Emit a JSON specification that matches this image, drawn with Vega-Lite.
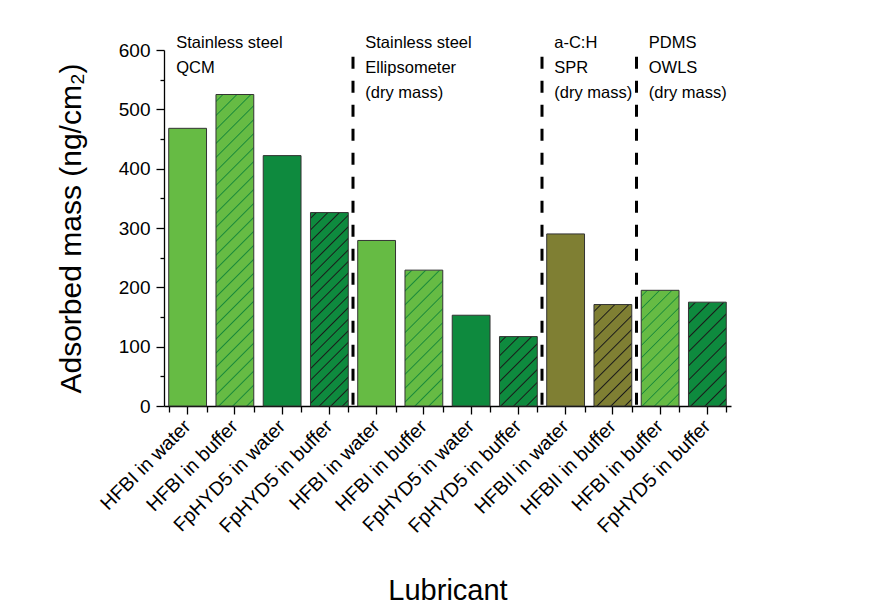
{
  "$schema": "https://vega.github.io/schema/vega-lite/v6.json",
  "width": 567,
  "height": 356,
  "autosize": {"type": "none"},
  "padding": {"left": 164, "top": 50, "right": 139, "bottom": 210},
  "background": "white",
  "config": {
    "view": {"stroke": null},
    "font": "Liberation Sans",
    "axis": {"grid": false, "domainColor": "#000", "tickColor": "#000", "labelColor": "#000", "titleColor": "#000", "labelFont": "Liberation Sans", "titleFont": "Liberation Sans", "titleFontWeight": "normal"}
  },
  "datasets": {
    "bars": [
      {"bar": "QCM|HFBI in water", "protein": "HFBI", "mass": 468},
      {"bar": "QCM|HFBI in buffer", "protein": "HFBI", "mass": 525},
      {"bar": "QCM|FpHYD5 in water", "protein": "FpHYD5", "mass": 422},
      {"bar": "QCM|FpHYD5 in buffer", "protein": "FpHYD5", "mass": 326},
      {"bar": "Ellipsometer|HFBI in water", "protein": "HFBI", "mass": 279},
      {"bar": "Ellipsometer|HFBI in buffer", "protein": "HFBI", "mass": 229},
      {"bar": "Ellipsometer|FpHYD5 in water", "protein": "FpHYD5", "mass": 153},
      {"bar": "Ellipsometer|FpHYD5 in buffer", "protein": "FpHYD5", "mass": 117},
      {"bar": "SPR|HFBII in water", "protein": "HFBII", "mass": 290},
      {"bar": "SPR|HFBII in buffer", "protein": "HFBII", "mass": 171},
      {"bar": "OWLS|HFBI in buffer", "protein": "HFBI", "mass": 195},
      {"bar": "OWLS|FpHYD5 in buffer", "protein": "FpHYD5", "mass": 175}
    ],
    "seps": [
      {"at": "Ellipsometer|HFBI in water"},
      {"at": "SPR|HFBII in water"},
      {"at": "OWLS|HFBI in buffer"}
    ],
    "notes": [
      {"at": "QCM|HFBI in water", "note": "Stainless steel\nQCM"},
      {"at": "Ellipsometer|HFBI in water", "note": "Stainless steel\nEllipsometer\n(dry mass)"},
      {"at": "SPR|HFBII in water", "note": "a-C:H\nSPR\n(dry mass)"},
      {"at": "OWLS|HFBI in buffer", "note": "PDMS\nOWLS\n(dry mass)"}
    ]
  },
  "layer": [
    {
      "data": {"name": "bars"},
      "mark": {"type": "bar", "stroke": "#333", "strokeWidth": 1},
      "encoding": {
        "x": {
          "field": "bar", "type": "nominal",
          "scale": {"domain": ["QCM|HFBI in water", "QCM|HFBI in buffer", "QCM|FpHYD5 in water", "QCM|FpHYD5 in buffer", "Ellipsometer|HFBI in water", "Ellipsometer|HFBI in buffer", "Ellipsometer|FpHYD5 in water", "Ellipsometer|FpHYD5 in buffer", "SPR|HFBII in water", "SPR|HFBII in buffer", "OWLS|HFBI in buffer", "OWLS|FpHYD5 in buffer"], "paddingInner": 0.2, "paddingOuter": 0.1},
          "axis": {"orient": "bottom", "title": "Lubricant", "labelExpr": "split(datum.label, '|')[1]", "labelAngle": -45, "labelAlign": "right", "labelBaseline": "middle", "labelFontSize": 19.5, "labelOverlap": false, "labelLimit": 300, "tickSize": 8, "labelPadding": 9, "titleFontSize": 29, "titlePadding": 41, "domainWidth": 1.3, "tickWidth": 1.3}
        },
        "y": {
          "field": "mass", "type": "quantitative",
          "scale": {"domain": [0, 600], "nice": false},
          "axis": {"orient": "left", "title": "Adsorbed mass (ng/cm₂)", "values": [0, 100, 200, 300, 400, 500, 600], "tickSize": 8, "labelFontSize": 19, "labelPadding": 6, "titleFontSize": 30, "titlePadding": 32, "domainWidth": 1.3, "tickWidth": 1.3}
        },
        "fill": {
          "field": "protein", "type": "nominal",
          "scale": {"domain": ["HFBI", "FpHYD5", "HFBII"], "range": ["#66bb44", "#0e8a3e", "#7f7f33"]},
          "legend": null,
          "condition": [
            {"test": "datum.bar === 'QCM|HFBI in buffer'", "value": {"gradient": "linear", "x1": 0, "y1": 0, "x2": 0.1341, "y2": 1.1051, "stops": [
              {"offset": 0.016, "color": "#66bb44"}, {"offset": 0.02, "color": "#1a8a3a"}, {"offset": 0.024, "color": "#66bb44"},
              {"offset": 0.056, "color": "#66bb44"}, {"offset": 0.06, "color": "#1a8a3a"}, {"offset": 0.064, "color": "#66bb44"},
              {"offset": 0.096, "color": "#66bb44"}, {"offset": 0.1, "color": "#1a8a3a"}, {"offset": 0.104, "color": "#66bb44"},
              {"offset": 0.136, "color": "#66bb44"}, {"offset": 0.14, "color": "#1a8a3a"}, {"offset": 0.144, "color": "#66bb44"},
              {"offset": 0.176, "color": "#66bb44"}, {"offset": 0.18, "color": "#1a8a3a"}, {"offset": 0.184, "color": "#66bb44"},
              {"offset": 0.216, "color": "#66bb44"}, {"offset": 0.22, "color": "#1a8a3a"}, {"offset": 0.224, "color": "#66bb44"},
              {"offset": 0.256, "color": "#66bb44"}, {"offset": 0.26, "color": "#1a8a3a"}, {"offset": 0.264, "color": "#66bb44"},
              {"offset": 0.296, "color": "#66bb44"}, {"offset": 0.3, "color": "#1a8a3a"}, {"offset": 0.304, "color": "#66bb44"},
              {"offset": 0.336, "color": "#66bb44"}, {"offset": 0.34, "color": "#1a8a3a"}, {"offset": 0.344, "color": "#66bb44"},
              {"offset": 0.376, "color": "#66bb44"}, {"offset": 0.38, "color": "#1a8a3a"}, {"offset": 0.384, "color": "#66bb44"},
              {"offset": 0.416, "color": "#66bb44"}, {"offset": 0.42, "color": "#1a8a3a"}, {"offset": 0.424, "color": "#66bb44"},
              {"offset": 0.456, "color": "#66bb44"}, {"offset": 0.46, "color": "#1a8a3a"}, {"offset": 0.464, "color": "#66bb44"},
              {"offset": 0.496, "color": "#66bb44"}, {"offset": 0.5, "color": "#1a8a3a"}, {"offset": 0.504, "color": "#66bb44"},
              {"offset": 0.536, "color": "#66bb44"}, {"offset": 0.54, "color": "#1a8a3a"}, {"offset": 0.544, "color": "#66bb44"},
              {"offset": 0.576, "color": "#66bb44"}, {"offset": 0.58, "color": "#1a8a3a"}, {"offset": 0.584, "color": "#66bb44"},
              {"offset": 0.616, "color": "#66bb44"}, {"offset": 0.62, "color": "#1a8a3a"}, {"offset": 0.624, "color": "#66bb44"},
              {"offset": 0.656, "color": "#66bb44"}, {"offset": 0.66, "color": "#1a8a3a"}, {"offset": 0.664, "color": "#66bb44"},
              {"offset": 0.696, "color": "#66bb44"}, {"offset": 0.7, "color": "#1a8a3a"}, {"offset": 0.704, "color": "#66bb44"},
              {"offset": 0.736, "color": "#66bb44"}, {"offset": 0.74, "color": "#1a8a3a"}, {"offset": 0.744, "color": "#66bb44"},
              {"offset": 0.776, "color": "#66bb44"}, {"offset": 0.78, "color": "#1a8a3a"}, {"offset": 0.784, "color": "#66bb44"},
              {"offset": 0.816, "color": "#66bb44"}, {"offset": 0.82, "color": "#1a8a3a"}, {"offset": 0.824, "color": "#66bb44"},
              {"offset": 0.856, "color": "#66bb44"}, {"offset": 0.86, "color": "#1a8a3a"}, {"offset": 0.864, "color": "#66bb44"},
              {"offset": 0.896, "color": "#66bb44"}, {"offset": 0.9, "color": "#1a8a3a"}, {"offset": 0.904, "color": "#66bb44"},
              {"offset": 0.936, "color": "#66bb44"}, {"offset": 0.94, "color": "#1a8a3a"}, {"offset": 0.944, "color": "#66bb44"},
              {"offset": 0.976, "color": "#66bb44"}, {"offset": 0.98, "color": "#1a8a3a"}, {"offset": 0.984, "color": "#66bb44"}
            ]}},
            {"test": "datum.bar === 'QCM|FpHYD5 in buffer'", "value": {"gradient": "linear", "x1": 0, "y1": 0, "x2": 0.2251, "y2": 1.1514, "stops": [
              {"offset": 0.019, "color": "#0e8a3e"}, {"offset": 0.025, "color": "#1a1a1a"}, {"offset": 0.031, "color": "#0e8a3e"},
              {"offset": 0.069, "color": "#0e8a3e"}, {"offset": 0.075, "color": "#1a1a1a"}, {"offset": 0.081, "color": "#0e8a3e"},
              {"offset": 0.119, "color": "#0e8a3e"}, {"offset": 0.125, "color": "#1a1a1a"}, {"offset": 0.131, "color": "#0e8a3e"},
              {"offset": 0.169, "color": "#0e8a3e"}, {"offset": 0.175, "color": "#1a1a1a"}, {"offset": 0.181, "color": "#0e8a3e"},
              {"offset": 0.219, "color": "#0e8a3e"}, {"offset": 0.225, "color": "#1a1a1a"}, {"offset": 0.231, "color": "#0e8a3e"},
              {"offset": 0.269, "color": "#0e8a3e"}, {"offset": 0.275, "color": "#1a1a1a"}, {"offset": 0.281, "color": "#0e8a3e"},
              {"offset": 0.319, "color": "#0e8a3e"}, {"offset": 0.325, "color": "#1a1a1a"}, {"offset": 0.331, "color": "#0e8a3e"},
              {"offset": 0.369, "color": "#0e8a3e"}, {"offset": 0.375, "color": "#1a1a1a"}, {"offset": 0.381, "color": "#0e8a3e"},
              {"offset": 0.419, "color": "#0e8a3e"}, {"offset": 0.425, "color": "#1a1a1a"}, {"offset": 0.431, "color": "#0e8a3e"},
              {"offset": 0.469, "color": "#0e8a3e"}, {"offset": 0.475, "color": "#1a1a1a"}, {"offset": 0.481, "color": "#0e8a3e"},
              {"offset": 0.519, "color": "#0e8a3e"}, {"offset": 0.525, "color": "#1a1a1a"}, {"offset": 0.531, "color": "#0e8a3e"},
              {"offset": 0.569, "color": "#0e8a3e"}, {"offset": 0.575, "color": "#1a1a1a"}, {"offset": 0.581, "color": "#0e8a3e"},
              {"offset": 0.619, "color": "#0e8a3e"}, {"offset": 0.625, "color": "#1a1a1a"}, {"offset": 0.631, "color": "#0e8a3e"},
              {"offset": 0.669, "color": "#0e8a3e"}, {"offset": 0.675, "color": "#1a1a1a"}, {"offset": 0.681, "color": "#0e8a3e"},
              {"offset": 0.719, "color": "#0e8a3e"}, {"offset": 0.725, "color": "#1a1a1a"}, {"offset": 0.731, "color": "#0e8a3e"},
              {"offset": 0.769, "color": "#0e8a3e"}, {"offset": 0.775, "color": "#1a1a1a"}, {"offset": 0.781, "color": "#0e8a3e"},
              {"offset": 0.819, "color": "#0e8a3e"}, {"offset": 0.825, "color": "#1a1a1a"}, {"offset": 0.831, "color": "#0e8a3e"},
              {"offset": 0.869, "color": "#0e8a3e"}, {"offset": 0.875, "color": "#1a1a1a"}, {"offset": 0.881, "color": "#0e8a3e"},
              {"offset": 0.919, "color": "#0e8a3e"}, {"offset": 0.925, "color": "#1a1a1a"}, {"offset": 0.931, "color": "#0e8a3e"},
              {"offset": 0.969, "color": "#0e8a3e"}, {"offset": 0.975, "color": "#1a1a1a"}, {"offset": 0.981, "color": "#0e8a3e"}
            ]}},
            {"test": "datum.bar === 'Ellipsometer|HFBI in buffer'", "value": {"gradient": "linear", "x1": 0, "y1": 0, "x2": 0.33, "y2": 1.1863, "stops": [
              {"offset": 0.032, "color": "#66bb44"}, {"offset": 0.04, "color": "#1a8a3a"}, {"offset": 0.048, "color": "#66bb44"},
              {"offset": 0.112, "color": "#66bb44"}, {"offset": 0.12, "color": "#1a8a3a"}, {"offset": 0.128, "color": "#66bb44"},
              {"offset": 0.192, "color": "#66bb44"}, {"offset": 0.2, "color": "#1a8a3a"}, {"offset": 0.208, "color": "#66bb44"},
              {"offset": 0.272, "color": "#66bb44"}, {"offset": 0.28, "color": "#1a8a3a"}, {"offset": 0.288, "color": "#66bb44"},
              {"offset": 0.352, "color": "#66bb44"}, {"offset": 0.36, "color": "#1a8a3a"}, {"offset": 0.368, "color": "#66bb44"},
              {"offset": 0.432, "color": "#66bb44"}, {"offset": 0.44, "color": "#1a8a3a"}, {"offset": 0.448, "color": "#66bb44"},
              {"offset": 0.512, "color": "#66bb44"}, {"offset": 0.52, "color": "#1a8a3a"}, {"offset": 0.528, "color": "#66bb44"},
              {"offset": 0.592, "color": "#66bb44"}, {"offset": 0.6, "color": "#1a8a3a"}, {"offset": 0.608, "color": "#66bb44"},
              {"offset": 0.672, "color": "#66bb44"}, {"offset": 0.68, "color": "#1a8a3a"}, {"offset": 0.688, "color": "#66bb44"},
              {"offset": 0.752, "color": "#66bb44"}, {"offset": 0.76, "color": "#1a8a3a"}, {"offset": 0.768, "color": "#66bb44"},
              {"offset": 0.832, "color": "#66bb44"}, {"offset": 0.84, "color": "#1a8a3a"}, {"offset": 0.848, "color": "#66bb44"},
              {"offset": 0.912, "color": "#66bb44"}, {"offset": 0.92, "color": "#1a8a3a"}, {"offset": 0.928, "color": "#66bb44"}
            ]}},
            {"test": "datum.bar === 'Ellipsometer|FpHYD5 in buffer'", "value": {"gradient": "linear", "x1": 0, "y1": 0, "x2": 0.6487, "y2": 1.1913, "stops": [
              {"offset": 0.047, "color": "#0e8a3e"}, {"offset": 0.06, "color": "#1a1a1a"}, {"offset": 0.073, "color": "#0e8a3e"},
              {"offset": 0.167, "color": "#0e8a3e"}, {"offset": 0.18, "color": "#1a1a1a"}, {"offset": 0.193, "color": "#0e8a3e"},
              {"offset": 0.287, "color": "#0e8a3e"}, {"offset": 0.3, "color": "#1a1a1a"}, {"offset": 0.313, "color": "#0e8a3e"},
              {"offset": 0.407, "color": "#0e8a3e"}, {"offset": 0.42, "color": "#1a1a1a"}, {"offset": 0.433, "color": "#0e8a3e"},
              {"offset": 0.527, "color": "#0e8a3e"}, {"offset": 0.54, "color": "#1a1a1a"}, {"offset": 0.553, "color": "#0e8a3e"},
              {"offset": 0.647, "color": "#0e8a3e"}, {"offset": 0.66, "color": "#1a1a1a"}, {"offset": 0.673, "color": "#0e8a3e"},
              {"offset": 0.767, "color": "#0e8a3e"}, {"offset": 0.78, "color": "#1a1a1a"}, {"offset": 0.793, "color": "#0e8a3e"},
              {"offset": 0.887, "color": "#0e8a3e"}, {"offset": 0.9, "color": "#1a1a1a"}, {"offset": 0.913, "color": "#0e8a3e"}
            ]}},
            {"test": "datum.bar === 'SPR|HFBII in buffer'", "value": {"gradient": "linear", "x1": 0, "y1": 0, "x2": 0.4492, "y2": 1.2063, "stops": [
              {"offset": 0.04, "color": "#7f7f33"}, {"offset": 0.05, "color": "#1a1a1a"}, {"offset": 0.06, "color": "#7f7f33"},
              {"offset": 0.14, "color": "#7f7f33"}, {"offset": 0.15, "color": "#1a1a1a"}, {"offset": 0.16, "color": "#7f7f33"},
              {"offset": 0.24, "color": "#7f7f33"}, {"offset": 0.25, "color": "#1a1a1a"}, {"offset": 0.26, "color": "#7f7f33"},
              {"offset": 0.34, "color": "#7f7f33"}, {"offset": 0.35, "color": "#1a1a1a"}, {"offset": 0.36, "color": "#7f7f33"},
              {"offset": 0.44, "color": "#7f7f33"}, {"offset": 0.45, "color": "#1a1a1a"}, {"offset": 0.46, "color": "#7f7f33"},
              {"offset": 0.54, "color": "#7f7f33"}, {"offset": 0.55, "color": "#1a1a1a"}, {"offset": 0.56, "color": "#7f7f33"},
              {"offset": 0.64, "color": "#7f7f33"}, {"offset": 0.65, "color": "#1a1a1a"}, {"offset": 0.66, "color": "#7f7f33"},
              {"offset": 0.74, "color": "#7f7f33"}, {"offset": 0.75, "color": "#1a1a1a"}, {"offset": 0.76, "color": "#7f7f33"},
              {"offset": 0.84, "color": "#7f7f33"}, {"offset": 0.85, "color": "#1a1a1a"}, {"offset": 0.86, "color": "#7f7f33"},
              {"offset": 0.94, "color": "#7f7f33"}, {"offset": 0.95, "color": "#1a1a1a"}, {"offset": 0.96, "color": "#7f7f33"}
            ]}},
            {"test": "datum.bar === 'OWLS|HFBI in buffer'", "value": {"gradient": "linear", "x1": 0, "y1": 0, "x2": 0.3916, "y2": 1.1988, "stops": [
              {"offset": 0.032, "color": "#66bb44"}, {"offset": 0.04, "color": "#1a8a3a"}, {"offset": 0.048, "color": "#66bb44"},
              {"offset": 0.112, "color": "#66bb44"}, {"offset": 0.12, "color": "#1a8a3a"}, {"offset": 0.128, "color": "#66bb44"},
              {"offset": 0.192, "color": "#66bb44"}, {"offset": 0.2, "color": "#1a8a3a"}, {"offset": 0.208, "color": "#66bb44"},
              {"offset": 0.272, "color": "#66bb44"}, {"offset": 0.28, "color": "#1a8a3a"}, {"offset": 0.288, "color": "#66bb44"},
              {"offset": 0.352, "color": "#66bb44"}, {"offset": 0.36, "color": "#1a8a3a"}, {"offset": 0.368, "color": "#66bb44"},
              {"offset": 0.432, "color": "#66bb44"}, {"offset": 0.44, "color": "#1a8a3a"}, {"offset": 0.448, "color": "#66bb44"},
              {"offset": 0.512, "color": "#66bb44"}, {"offset": 0.52, "color": "#1a8a3a"}, {"offset": 0.528, "color": "#66bb44"},
              {"offset": 0.592, "color": "#66bb44"}, {"offset": 0.6, "color": "#1a8a3a"}, {"offset": 0.608, "color": "#66bb44"},
              {"offset": 0.672, "color": "#66bb44"}, {"offset": 0.68, "color": "#1a8a3a"}, {"offset": 0.688, "color": "#66bb44"},
              {"offset": 0.752, "color": "#66bb44"}, {"offset": 0.76, "color": "#1a8a3a"}, {"offset": 0.768, "color": "#66bb44"},
              {"offset": 0.832, "color": "#66bb44"}, {"offset": 0.84, "color": "#1a8a3a"}, {"offset": 0.848, "color": "#66bb44"},
              {"offset": 0.912, "color": "#66bb44"}, {"offset": 0.92, "color": "#1a8a3a"}, {"offset": 0.928, "color": "#66bb44"}
            ]}},
            {"test": "datum.bar === 'OWLS|FpHYD5 in buffer'", "value": {"gradient": "linear", "x1": 0, "y1": 0, "x2": 0.4386, "y2": 1.2045, "stops": [
              {"offset": 0.04, "color": "#0e8a3e"}, {"offset": 0.05, "color": "#1a1a1a"}, {"offset": 0.06, "color": "#0e8a3e"},
              {"offset": 0.14, "color": "#0e8a3e"}, {"offset": 0.15, "color": "#1a1a1a"}, {"offset": 0.16, "color": "#0e8a3e"},
              {"offset": 0.24, "color": "#0e8a3e"}, {"offset": 0.25, "color": "#1a1a1a"}, {"offset": 0.26, "color": "#0e8a3e"},
              {"offset": 0.34, "color": "#0e8a3e"}, {"offset": 0.35, "color": "#1a1a1a"}, {"offset": 0.36, "color": "#0e8a3e"},
              {"offset": 0.44, "color": "#0e8a3e"}, {"offset": 0.45, "color": "#1a1a1a"}, {"offset": 0.46, "color": "#0e8a3e"},
              {"offset": 0.54, "color": "#0e8a3e"}, {"offset": 0.55, "color": "#1a1a1a"}, {"offset": 0.56, "color": "#0e8a3e"},
              {"offset": 0.64, "color": "#0e8a3e"}, {"offset": 0.65, "color": "#1a1a1a"}, {"offset": 0.66, "color": "#0e8a3e"},
              {"offset": 0.74, "color": "#0e8a3e"}, {"offset": 0.75, "color": "#1a1a1a"}, {"offset": 0.76, "color": "#0e8a3e"},
              {"offset": 0.84, "color": "#0e8a3e"}, {"offset": 0.85, "color": "#1a1a1a"}, {"offset": 0.86, "color": "#0e8a3e"},
              {"offset": 0.94, "color": "#0e8a3e"}, {"offset": 0.95, "color": "#1a1a1a"}, {"offset": 0.96, "color": "#0e8a3e"}
            ]}}
          ]
        }
      }
    },
    {
      "data": {"name": "seps"},
      "mark": {"type": "rule", "strokeWidth": 3, "strokeDash": [12, 12], "color": "#000"},
      "encoding": {
        "x": {
          "field": "at", "type": "nominal", "bandPosition": -0.125,
          "scale": {"domain": ["QCM|HFBI in water", "QCM|HFBI in buffer", "QCM|FpHYD5 in water", "QCM|FpHYD5 in buffer", "Ellipsometer|HFBI in water", "Ellipsometer|HFBI in buffer", "Ellipsometer|FpHYD5 in water", "Ellipsometer|FpHYD5 in buffer", "SPR|HFBII in water", "SPR|HFBII in buffer", "OWLS|HFBI in buffer", "OWLS|FpHYD5 in buffer"], "paddingInner": 0.2, "paddingOuter": 0.1},
          "axis": {"orient": "bottom", "tickBand": "extent", "tickSize": 6, "labels": false, "domain": false, "title": null, "tickWidth": 1.3}
        },
        "y": {
          "datum": 2, "type": "quantitative",
          "scale": {"domain": [0, 600], "nice": false},
          "axis": {"orient": "left", "values": [50, 150, 250, 350, 450, 550], "tickSize": 4, "labels": false, "domain": false, "title": null, "tickWidth": 1.3}
        },
        "y2": {"datum": 604}
      }
    },
    {
      "data": {"name": "notes"},
      "mark": {"type": "text", "align": "left", "baseline": "alphabetic", "fontSize": 16.5, "lineHeight": 25, "lineBreak": "\n", "dy": -2, "color": "#000", "font": "Liberation Sans"},
      "encoding": {
        "x": {"field": "at", "type": "nominal", "bandPosition": 0.2, "axis": null},
        "y": {"datum": 600, "type": "quantitative", "axis": null},
        "text": {"field": "note"}
      }
    }
  ],
  "resolve": {"axis": {"x": "independent", "y": "independent"}}
}
